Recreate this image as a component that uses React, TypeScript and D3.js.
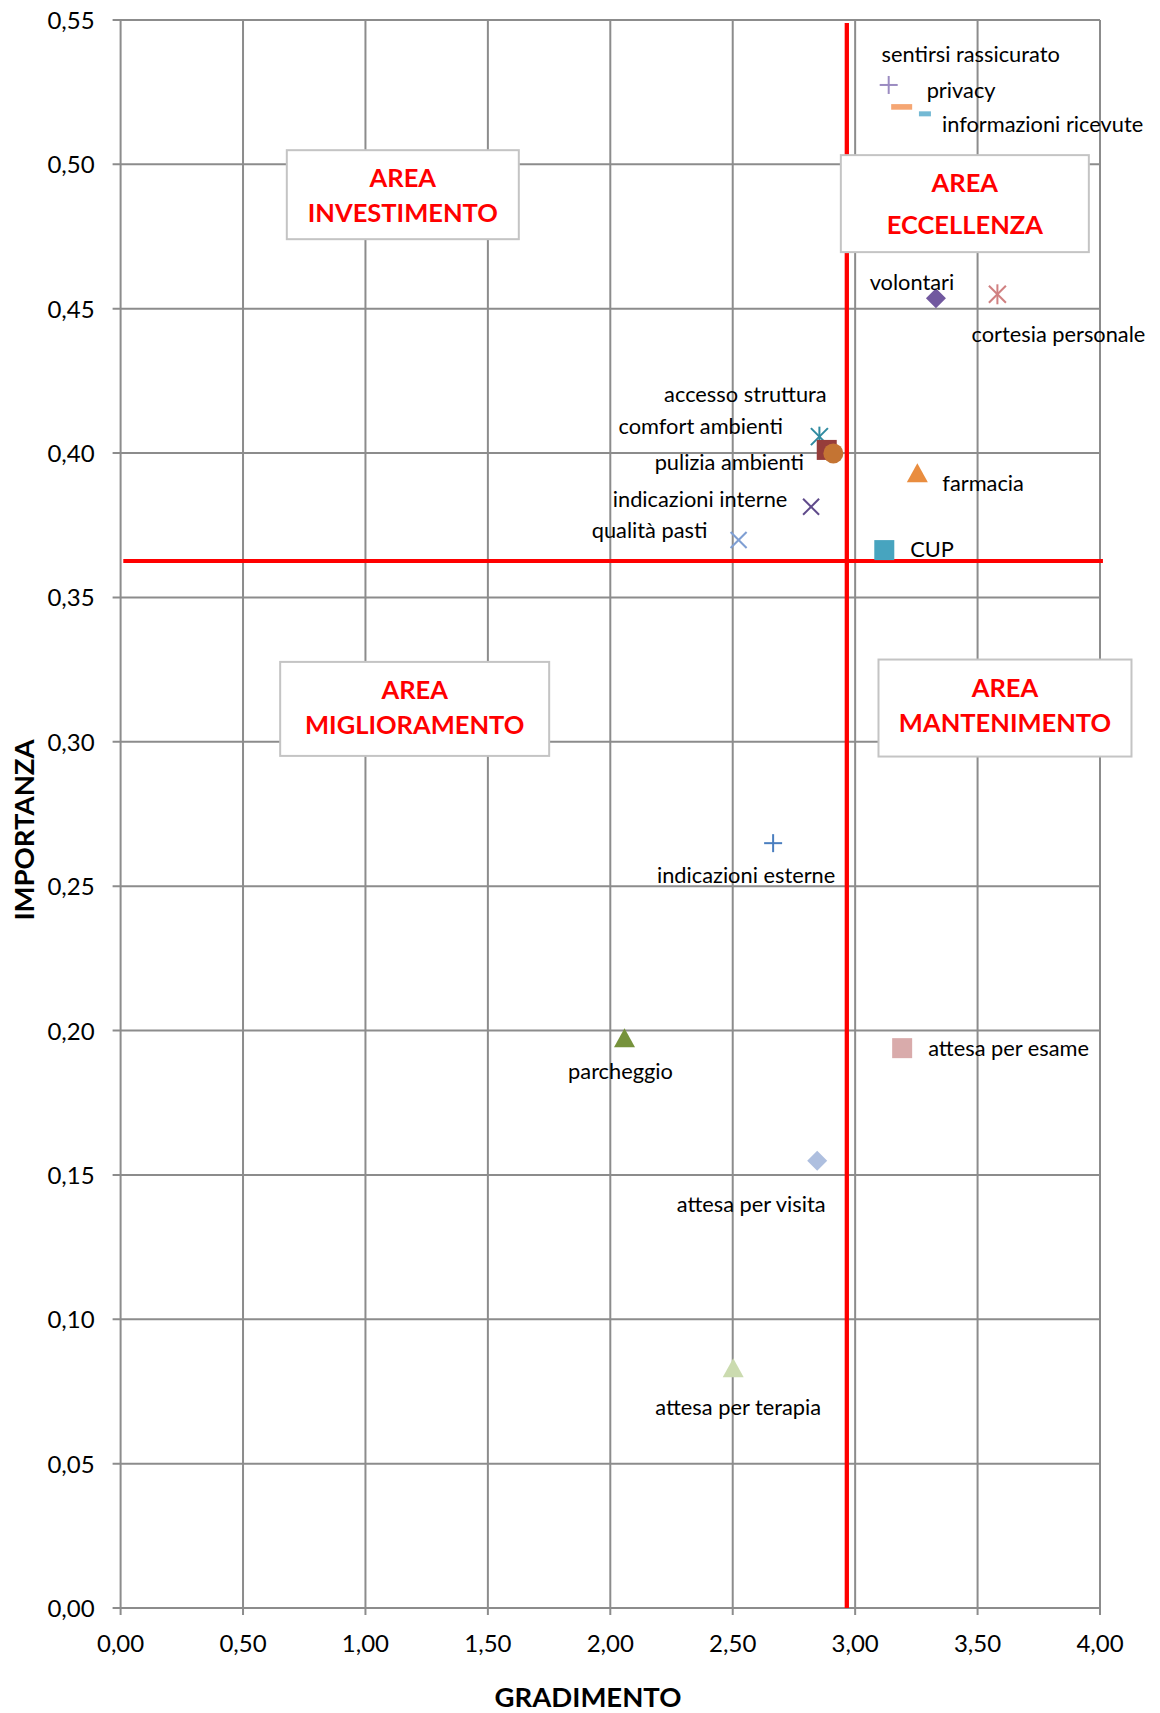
import React from 'react';
import * as d3 from 'd3';

// ---- data ----
const names = [
  'sentirsi rassicurato', 'privacy', 'informazioni ricevute', 'volontari', 'cortesia personale',
  'accesso struttura', 'comfort ambienti', 'pulizia ambienti', 'indicazioni interne', 'qualità pasti',
  'CUP', 'farmacia', 'indicazioni esterne', 'parcheggio', 'attesa per esame', 'attesa per visita',
  'attesa per terapia',
];
const gradimento = [3.137, 3.19, 3.285, 3.33, 3.581, 2.854, 2.884, 2.911, 2.82, 2.524, 3.119, 3.254, 2.665, 2.058, 3.192, 2.845, 2.502];
const importanza = [0.5275, 0.5199, 0.5175, 0.4536, 0.455, 0.4057, 0.4011, 0.3999, 0.3814, 0.3699, 0.3664, 0.393, 0.2649, 0.1973, 0.1939, 0.1549, 0.083];

// quadrant separators (mean values)
const meanGradimento = 2.966;
const meanImportanza = 0.3626;
const vLineY = [0, 0.549];
const hLineX = [0.011, 4.012];

const xTicks = [0, 0.5, 1, 1.5, 2, 2.5, 3, 3.5, 4];
const yTicks = [0, 0.05, 0.1, 0.15, 0.2, 0.25, 0.3, 0.35, 0.4, 0.45, 0.5, 0.55];

const areaLines = [
  ['AREA', 'INVESTIMENTO'],
  ['AREA', 'ECCELLENZA'],
  ['AREA', 'MIGLIORAMENTO'],
  ['AREA', 'MANTENIMENTO'],
];

// ---- styles / layout ----
const markerShapes = ['plus', 'dash', 'dashSmall', 'diamond', 'star', 'star', 'square', 'circle', 'x', 'x', 'square', 'triangle', 'plus', 'triangle', 'square', 'diamond', 'triangle'];
const markerColors = ['#9b8bc1', '#f5a673', '#74b9d4', '#71589f', '#d08081', '#2f8aa0', '#963c3a', '#c47433', '#5f4a8b', '#7f9fd3', '#47a4bf', '#e98d3f', '#4a7ebf', '#76923c', '#d9abab', '#aebfdf', '#cbdbaf'];
// [anchor, dx, dy] relative to marker
const labelLayout: [string, number, number][] = [
  ['middle', 82, -23],
  ['start', 25, -9],
  ['start', 17, 18],
  ['middle', -24, -8],
  ['middle', 61, 48],
  ['middle', -74, -35],
  ['middle', -126, -16],
  ['middle', -104, 17],
  ['middle', -111, 0],
  ['middle', -89, -2],
  ['start', 26, 7],
  ['start', 25, 18],
  ['middle', -27, 40],
  ['middle', -4, 41],
  ['start', 26, 8],
  ['middle', -66, 51],
  ['middle', 5, 47],
];
// area boxes: center in data units, size in px
const areaBoxes = [
  { cx: 1.1526, cy: 0.4895, w: 232, h: 89, l2: 72 },
  { cx: 3.448, cy: 0.4864, w: 248, h: 97, l2: 79 },
  { cx: 1.201, cy: 0.3114, w: 269, h: 94, l2: 72 },
  { cx: 3.612, cy: 0.3117, w: 253, h: 97, l2: 72 },
];

const W = 1160;
const H = 1713;
const FONT = 'Lato, "Noto Sans", sans-serif';
const GRID = '#8c8c8c';

const x = d3.scaleLinear().domain([0, 4]).range([120.6, 1100]);
const y = d3.scaleLinear().domain([0, 0.55]).range([1608, 20]);
const fmt = (v: number) => d3.format('.2f')(v).replace('.', ',');

function Marker({ shape, cx, cy, color }: { shape: string; cx: number; cy: number; color: string }) {
  const s = 10;
  switch (shape) {
    case 'plus':
      return (
        <g stroke={color} strokeWidth={2}>
          <line x1={cx - 9} x2={cx + 9} y1={cy} y2={cy} />
          <line x1={cx} x2={cx} y1={cy - 9} y2={cy + 9} />
        </g>
      );
    case 'x':
      return (
        <g stroke={color} strokeWidth={2}>
          <line x1={cx - 8} x2={cx + 8} y1={cy - 8} y2={cy + 8} />
          <line x1={cx - 8} x2={cx + 8} y1={cy + 8} y2={cy - 8} />
        </g>
      );
    case 'star':
      return (
        <g stroke={color} strokeWidth={2}>
          <line x1={cx} x2={cx} y1={cy - 10} y2={cy + 10} />
          <line x1={cx - 8.5} x2={cx + 8.5} y1={cy - 8.5} y2={cy + 8.5} />
          <line x1={cx - 8.5} x2={cx + 8.5} y1={cy + 8.5} y2={cy - 8.5} />
        </g>
      );
    case 'dash':
      return <rect x={cx - 10.5} y={cy - 2.8} width={21} height={5.6} fill={color} />;
    case 'dashSmall':
      return <rect x={cx - 6} y={cy - 2.5} width={12} height={5} fill={color} />;
    case 'diamond':
      return <path d={`M${cx},${cy - s}L${cx + s},${cy}L${cx},${cy + s}L${cx - s},${cy}Z`} fill={color} />;
    case 'square':
      return <rect x={cx - s} y={cy - s} width={2 * s} height={2 * s} fill={color} />;
    case 'circle':
      return <circle cx={cx} cy={cy} r={s} fill={color} />;
    case 'triangle':
      return <path d={`M${cx},${cy - 10}L${cx + 10.5},${cy + 9}L${cx - 10.5},${cy + 9}Z`} fill={color} />;
    default:
      return null;
  }
}

export default function App() {
  const x0 = x(0);
  const x4 = x(4);
  const y0 = y(0);
  const yTop = y(0.55);
  const line = d3.line<[number, number]>().x((d) => x(d[0])).y((d) => y(d[1]));
  const vLine = line(vLineY.map((v) => [meanGradimento, v] as [number, number])) || '';
  const hLine = line(hLineX.map((v) => [v, meanImportanza] as [number, number])) || '';

  return (
    <svg
      width={W}
      height={H}
      viewBox={`0 0 ${W} ${H}`}
      style={{ position: 'absolute', left: 0, top: 0, background: '#fff' }}
      fontFamily={FONT}
    >
      <rect width={W} height={H} fill="#fff" />
      {/* grid */}
      <g stroke={GRID} strokeWidth={2}>
        {xTicks.map((t) => (
          <line key={'vx' + t} x1={x(t)} x2={x(t)} y1={yTop} y2={y0 + 7} />
        ))}
        {yTicks.map((t) => (
          <line key={'hy' + t} x1={x0 - 8} x2={x4} y1={y(t)} y2={y(t)} />
        ))}
      </g>
      {/* tick labels */}
      <g fontSize={24} fill="#000">
        {yTicks.map((t) => (
          <text key={'yl' + t} x={x0 - 26} y={y(t) + 9} textAnchor="end">
            {fmt(t)}
          </text>
        ))}
        {xTicks.map((t) => (
          <text key={'xl' + t} x={x(t)} y={y0 + 44} textAnchor="middle">
            {fmt(t)}
          </text>
        ))}
      </g>
      {/* axis titles */}
      <text x={588} y={1707} textAnchor="middle" fontSize={27.5} fontWeight="bold" fill="#000">
        GRADIMENTO
      </text>
      <text
        transform={`translate(34,830) rotate(-90)`}
        textAnchor="middle"
        fontSize={27.5}
        fontWeight="bold"
        fill="#000"
      >
        IMPORTANZA
      </text>
      {/* quadrant lines */}
      <path d={vLine} stroke="#ff0000" strokeWidth={4.3} fill="none" />
      <path d={hLine} stroke="#ff0000" strokeWidth={4} fill="none" />
      {/* markers */}
      {names.map((n, i) => (
        <Marker key={'m' + n} shape={markerShapes[i]} cx={x(gradimento[i])} cy={y(importanza[i])} color={markerColors[i]} />
      ))}
      {/* labels */}
      <g fontSize={21.8} fill="#000">
        {names.map((n, i) => (
          <text
            key={'l' + n}
            x={x(gradimento[i]) + labelLayout[i][1]}
            y={y(importanza[i]) + labelLayout[i][2]}
            textAnchor={labelLayout[i][0]}
          >
            {n}
          </text>
        ))}
      </g>
      {/* area boxes */}
      {areaBoxes.map((b, i) => {
        const left = x(b.cx) - b.w / 2;
        const top = y(b.cy) - b.h / 2;
        return (
          <g key={'a' + i}>
            <rect x={left} y={top} width={b.w} height={b.h} fill="#fff" stroke="#c4c4c4" strokeWidth={2} />
            <text x={x(b.cx)} y={top + 37} textAnchor="middle" fontSize={25.5} fontWeight="bold" fill="#ff0000">
              {areaLines[i][0]}
            </text>
            <text x={x(b.cx)} y={top + b.l2} textAnchor="middle" fontSize={25.5} fontWeight="bold" fill="#ff0000">
              {areaLines[i][1]}
            </text>
          </g>
        );
      })}
    </svg>
  );
}
